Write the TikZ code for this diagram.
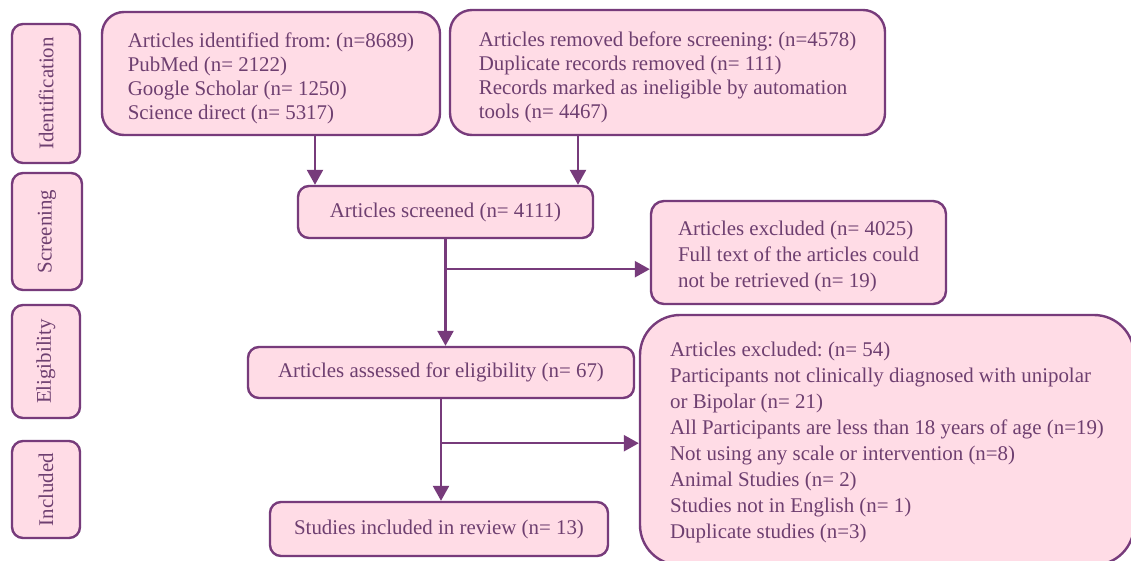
\documentclass[tikz,border=0pt]{standalone}
\usepackage{fontspec}
\setmainfont{Liberation Serif}
\usetikzlibrary{arrows.meta,calc}
\frenchspacing
\definecolor{bfill}{HTML}{FFDCE6}
\definecolor{bdraw}{HTML}{773B7B}
\definecolor{btext}{HTML}{6E3F70}
\newcommand{\toppad}[1]{\rule{0pt}{#1}}
\tikzset{
  box/.style={draw=bdraw, fill=bfill, line width=2.4pt, text=btext, inner sep=0pt,
              font=\fontsize{20.9}{24}\selectfont},
  sidebox/.style={box, rounded corners=11pt, rotate=90},
  arr/.style={draw=bdraw, line width=2.4pt, -{Triangle[length=15pt,width=16pt]}},
}
\begin{document}
\begin{tikzpicture}[x=1pt,y=-1pt]
\useasboundingbox (0,0) rectangle (1131,560);
\clip (0,0) rectangle (1131,560);
\fill[white] (0,0) rectangle (1131,560);

% side labels
\node[sidebox, minimum width=139pt, minimum height=68pt] (sid) at (46,93.5) {Identification};
\node[sidebox, minimum width=117pt, minimum height=70pt] (ssc) at (47,231.5) {Screening};
\node[sidebox, minimum width=113pt, minimum height=68pt] (sel) at (46,361.5) {Eligibility};
\node[sidebox, minimum width=97pt, minimum height=68pt] (sin) at (46,489.5) {Included};

% main boxes
\node[box, rounded corners=22pt, minimum width=338pt, minimum height=123pt, align=left] (A) at (271,73.5)
  {\toppad{24.5pt}Articles identified from: (n=8689)\\PubMed (n= 2122)\\Google Scholar (n= 1250)\\Science direct (n= 5317)};
\node[box, rounded corners=22pt, minimum width=435pt, minimum height=125pt, align=left] (B) at (667.5,72.5)
  {\toppad{24.5pt}Articles removed before screening: (n=4578)\\Duplicate records removed (n= 111)\\Records marked as ineligible by automation\hspace*{20pt}\\tools (n= 4467)};
\node[box, rounded corners=11pt, minimum width=295pt, minimum height=52pt] (scr) at (445.5,212)
  {Articles screened (n= 4111)};
\node[box, rounded corners=13pt, minimum width=295pt, minimum height=103pt,
      align=left, font=\fontsize{20.9}{26}\selectfont] (ex1) at (798.5,252.5)
  {\toppad{22.5pt}Articles excluded (n= 4025)\\Full text of the articles could\hspace*{4pt}\\not be retrieved (n= 19)};
\node[box, rounded corners=11pt, minimum width=386pt, minimum height=51pt] (ass) at (441,372.5)
  {Articles assessed for eligibility (n= 67)};
\node[box, rounded corners=40pt, minimum width=494pt, minimum height=250pt,
      align=left, font=\fontsize{20.9}{26}\selectfont] (ex2) at (887,440)
  {\toppad{19.5pt}Articles excluded: (n= 54)\\Participants not clinically diagnosed with unipolar\\or Bipolar (n= 21)\\All Participants are less than 18 years of age (n=19)\\Not using any scale or intervention (n=8)\\Animal Studies (n= 2)\\Studies not in English (n= 1)\\Duplicate studies (n=3)};
\node[box, rounded corners=11pt, minimum width=338pt, minimum height=54pt] (inc) at (439,529)
  {Studies included in review (n= 13)};

% connectors
\coordinate (a1) at ([xshift=44pt]A.south);
\draw[arr] (a1) -- (a1 |- scr.north);
\coordinate (b1) at ([xshift=-89.5pt]B.south);
\draw[arr] (b1) -- (b1 |- scr.north);
\draw[arr] (scr.south) -- (scr.south |- ass.north);
\coordinate (j1) at ([yshift=-30pt]scr.south);
\draw[arr] (j1) -- (j1 -| ex1.west);
\draw[arr] (ass.south) -- (ass.south |- inc.north);
\coordinate (j2) at ([yshift=-44pt]ass.south);
\draw[arr] (j2) -- (j2 -| ex2.west);
\end{tikzpicture}
\end{document}
